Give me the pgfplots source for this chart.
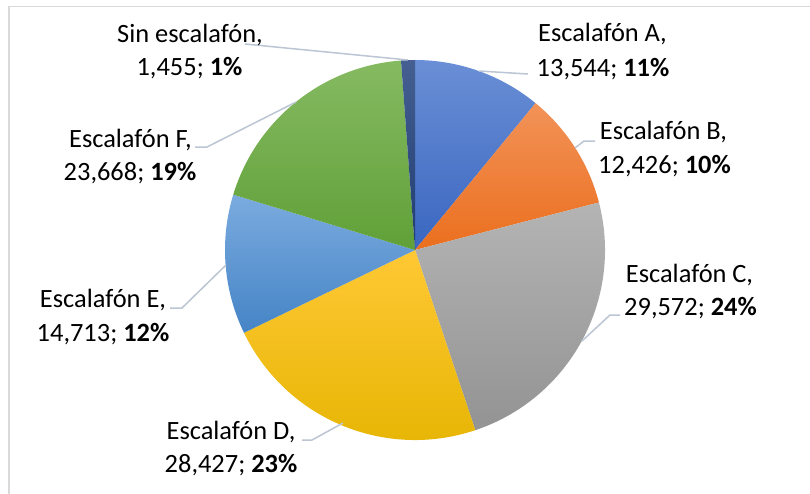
\documentclass[border=0pt]{standalone}
\usepackage{fontspec}
\setmainfont{Carlito}
\usepackage{pgfplots}
\pgfplotsset{compat=1.18}
% data
\def\vA{13544}\def\vB{12426}\def\vC{29572}\def\vD{28427}\def\vE{14713}\def\vF{23668}\def\vS{1455}
\edef\tot{\fpeval{\vA+\vB+\vC+\vD+\vE+\vF+\vS}}
\edef\aA{90}
\edef\aB{\fpeval{\aA-360*\vA/\tot}}
\edef\aC{\fpeval{\aB-360*\vB/\tot}}
\edef\aD{\fpeval{\aC-360*\vC/\tot}}
\edef\aE{\fpeval{\aD-360*\vD/\tot}}
\edef\aF{\fpeval{\aE-360*\vE/\tot}}
\edef\aS{\fpeval{\aF-360*\vF/\tot}}
\edef\aZ{\fpeval{\aS-360*\vS/\tot}}
\definecolor{ldr}{HTML}{BCC5D3}
\definecolor{frm}{HTML}{D9D9D9}
\definecolor{At}{HTML}{6A8FD6}\definecolor{Ab}{HTML}{3A66C0}
\definecolor{Bt}{HTML}{F29258}\definecolor{Bb}{HTML}{EB6F1E}
\definecolor{Ct}{HTML}{B4B4B4}\definecolor{Cb}{HTML}{939393}
\definecolor{Dt}{HTML}{FFC835}\definecolor{Db}{HTML}{E5B400}
\definecolor{Et}{HTML}{7BABDF}\definecolor{Eb}{HTML}{4584C6}
\definecolor{Ft}{HTML}{86BA62}\definecolor{Fb}{HTML}{60A038}
\definecolor{St}{HTML}{455F92}\definecolor{Sb}{HTML}{1F3C70}
\newcommand{\slice}[4]{%
  \shade[top color=#3, bottom color=#4] (axis cs:415,250) -- ++(#1:190bp) arc[start angle=#1, end angle=#2, radius=190bp] -- cycle;}
\begin{document}
\begin{tikzpicture}
\useasboundingbox (0,0) rectangle (810bp,494bp);
\begin{axis}[at={(0,0)}, anchor=south west, width=810bp, height=494bp,
  scale only axis, xmin=0, xmax=810, ymin=0, ymax=494, y dir=reverse,
  hide axis, clip=false]
\draw[frm, line width=1.5bp] (axis cs:9,494) -- (axis cs:9,6.5) -- (axis cs:810,6.5);
\slice{\aA}{\aB}{At}{Ab}
\slice{\aB}{\aC}{Bt}{Bb}
\slice{\aC}{\aD}{Ct}{Cb}
\slice{\aD}{\aE}{Dt}{Db}
\slice{\aE}{\aF}{Et}{Eb}
\slice{\aF}{\aS}{Ft}{Fb}
\slice{\aS}{\aZ}{St}{Sb}
% leader lines
\begin{scope}[ldr, line width=1.5bp]
\draw (axis cs:408,60) -- (axis cs:245,44);
\draw (axis cs:479,71) -- (axis cs:528,74);
\draw (axis cs:575,148) -- (axis cs:584,141) -- (axis cs:595,141);
\draw (axis cs:582,341) -- (axis cs:610,315) -- (axis cs:620,315);
\draw (axis cs:343,423) -- (axis cs:312,440) -- (axis cs:302,440);
\draw (axis cs:226,265) -- (axis cs:182,308) -- (axis cs:170,308);
\draw (axis cs:296,102) -- (axis cs:207,147) -- (axis cs:195,147);
\end{scope}
% labels
\begin{scope}[every node/.style={anchor=base, inner sep=0pt, font=\fontsize{26.5}{33}\selectfont}]
\node at (axis cs:190,43) {Sin escalafón,};
\node at (axis cs:189.5,76) {1,455; \textbf{1\%}};
\node at (axis cs:602.5,42) {Escalafón A,};
\node at (axis cs:603,77) {13,544; \textbf{11\%}};
\node at (axis cs:663.5,139) {Escalafón B,};
\node at (axis cs:664.5,173) {12,426; \textbf{10\%}};
\node at (axis cs:689.5,282) {Escalafón C,};
\node at (axis cs:690.5,315) {29,572; \textbf{24\%}};
\node at (axis cs:231,439) {Escalafón D,};
\node at (axis cs:231,472) {28,427; \textbf{23\%}};
\node at (axis cs:103,307) {Escalafón E,};
\node at (axis cs:103,341) {14,713; \textbf{12\%}};
\node at (axis cs:130.5,147) {Escalafón F,};
\node at (axis cs:130,180) {23,668; \textbf{19\%}};
\end{scope}
\end{axis}
\end{tikzpicture}
\end{document}
